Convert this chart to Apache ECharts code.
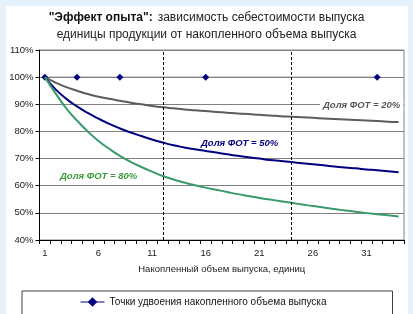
<!DOCTYPE html>
<html>
<head>
<meta charset="utf-8">
<script src="https://cdn.jsdelivr.net/npm/echarts@6/dist/echarts.min.js"></script>
<style>
  html, body { margin: 0; padding: 0; background: #e6f2fb; }
  #panel { position: absolute; left: 6px; top: 6px; width: 402px; height: 308px; background: #fff; }
  #chart { position: absolute; left: 0; top: 0; width: 413px; height: 314px; }
</style>
</head>
<body>
<div id="panel"></div>
<div id="chart"></div>
<script>
// накопленный объем выпуска, единиц
var categories = [];
for (var i = 1; i <= 34; i++) categories.push(String(i));

// себестоимость единицы, % от первой единицы
var share20 = [100, 98, 96.3, 95, 93.8, 92.8, 92, 91.3, 90.6, 90, 89.4, 88.9, 88.5, 88.1, 87.8, 87.5, 87.2,
    86.9, 86.6, 86.4, 86.1, 85.9, 85.6, 85.4, 85.2, 85, 84.8, 84.6, 84.4, 84.2, 84, 83.8, 83.6, 83.5];
var share50 = [100, 95.5, 92, 89.2, 86.8, 84.7, 82.8, 81.1, 79.6, 78.3, 77, 75.9, 74.9, 74.1, 73.4, 72.8, 72.2,
    71.6, 71, 70.5, 70, 69.5, 69.1, 68.7, 68.3, 67.9, 67.5, 67.1, 66.7, 66.4, 66, 65.7, 65.3, 65];
var share80 = [100, 94, 88.5, 84, 80, 76.5, 73.6, 71, 68.8, 66.9, 65.2, 63.6, 62.3, 61.2, 60.2, 59.3, 58.5,
    57.7, 56.9, 56.2, 55.5, 54.9, 54.3, 53.7, 53.1, 52.5, 52, 51.4, 50.9, 50.4, 49.9, 49.5, 49.1, 48.7];
// точки удвоения накопленного объема
var doubling = [100, null, null, 100, null, null, null, 100, null, null, null, null, null, null, null, 100, null,
    null, null, null, null, null, null, null, null, null, null, null, null, null, null, 100, null, null];
var dashedAt = ['12', '24'];

var FONT = '"Liberation Sans", Arial, sans-serif';
var LEGEND_NAME = 'Точки удвоения накопленного объема выпуска';
var chart = echarts.init(document.getElementById('chart'));

var option = {
    animation: false,
    textStyle: { fontFamily: FONT },
    title: {
        left: 'center',
        top: 9,
        padding: 0,
        text: '{b|"Эффект опыта":} {n|зависимость себестоимости выпуска}\n{n|единицы продукции от накопленного объема выпуска}',
        textStyle: {
            fontWeight: 'normal',
            rich: {
                b: { fontFamily: FONT, fontSize: 12, fontWeight: 'bold', color: '#111', lineHeight: 16 },
                n: { fontFamily: FONT, fontSize: 12, fontWeight: 'normal', color: '#222', lineHeight: 16 }
            }
        }
    },
    grid: {
        left: 39.5, right: 9, top: 50, bottom: 74,
        show: true, borderColor: '#808080', borderWidth: 1
    },
    legend: {
        left: 22,
        top: 291,
        data: [{
            name: LEGEND_NAME,
            lineStyle: { color: '#000080', width: 1, opacity: 1 }
        }],
        itemWidth: 24,
        itemHeight: 12,
        itemGap: 4,
        padding: [6, 66, 30, 58],
        borderColor: '#404040',
        borderWidth: 1,
        textStyle: { fontFamily: FONT, fontSize: 10, color: '#111' }
    },
    xAxis: {
        type: 'category',
        data: categories,
        boundaryGap: true,
        name: 'Накопленный объем выпуска, единиц',
        nameLocation: 'middle',
        nameGap: 24,
        nameTextStyle: { fontFamily: FONT, fontSize: 9.5, color: '#222' },
        axisLine: { lineStyle: { color: '#000', width: 1 } },
        axisTick: { show: true, interval: 0, length: 4, lineStyle: { color: '#000' } },
        axisLabel: { interval: 4, fontFamily: FONT, fontSize: 9.5, color: '#222', margin: 8 },
        splitLine: { show: false }
    },
    yAxis: {
        type: 'value',
        min: 40, max: 110, interval: 10,
        axisLine: { show: true, lineStyle: { color: '#000', width: 1 } },
        axisTick: { show: true, length: 4, lineStyle: { color: '#000' } },
        axisLabel: { formatter: '{value}%', fontFamily: FONT, fontSize: 9.5, color: '#222', margin: 6 },
        splitLine: { lineStyle: { color: '#808080', width: 1 } }
    },
    series: [
        {
            name: 'Доля ФОТ = 20%', type: 'line', data: share20, smooth: true, symbol: 'none',
            lineStyle: { color: '#5c5c5c', width: 2 },
            markLine: {
                silent: true, symbol: 'none', label: { show: false },
                lineStyle: { color: '#000', type: [3, 2], width: 1 },
                data: dashedAt.map(function (c) { return { xAxis: c }; })
            }
        },
        {
            name: 'Доля ФОТ = 50%', type: 'line', data: share50, smooth: true, symbol: 'none',
            lineStyle: { color: '#000080', width: 2 }
        },
        {
            name: 'Доля ФОТ = 80%', type: 'line', data: share80, smooth: true, symbol: 'none',
            lineStyle: { color: '#3a9a6c', width: 2 }
        },
        {
            name: LEGEND_NAME, type: 'line', data: doubling,
            connectNulls: true, symbol: 'diamond', symbolSize: 7, showAllSymbol: true,
            itemStyle: { color: '#000080' },
            lineStyle: { color: '#808080', width: 1 },
            z: 1
        }
    ],
    graphic: [
        {
            type: 'text', left: 320, top: 99, z: 10,
            style: {
                text: 'Доля ФОТ = 20%', fill: '#555', font: 'italic bold 9.5px ' + FONT,
                backgroundColor: '#fff', padding: [1, 3]
            }
        },
        {
            type: 'text', left: 201, top: 138, z: 10,
            style: { text: 'Доля ФОТ = 50%', fill: '#000080', font: 'italic bold 9.5px ' + FONT }
        },
        {
            type: 'text', left: 60, top: 171, z: 10,
            style: { text: 'Доля ФОТ = 80%', fill: '#3a9a3a', font: 'italic bold 9.5px ' + FONT }
        }
    ]
};
chart.setOption(option);
</script>
</body>
</html>
